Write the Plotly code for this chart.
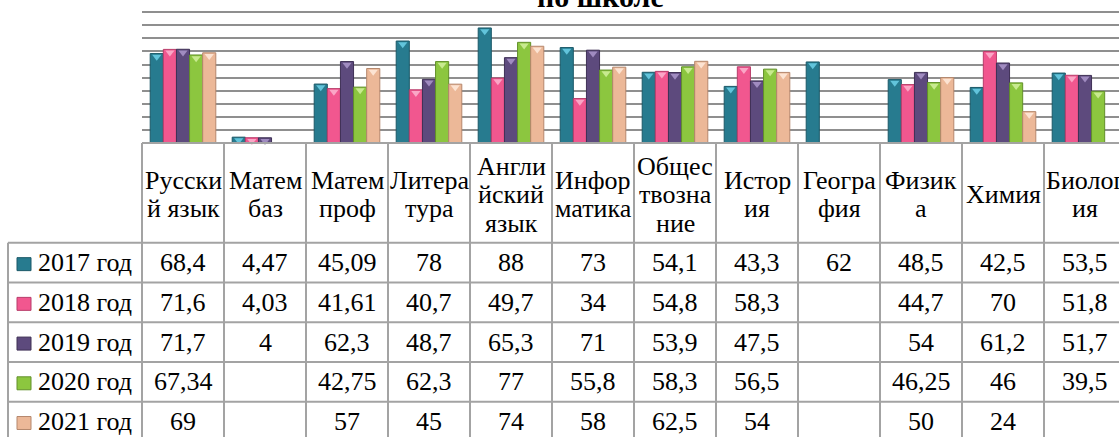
import plotly.graph_objects as go

categories = ["Русский язык", "Матем баз", "Матем проф", "Литература", "Английский язык",
              "Информатика", "Обществознание", "История", "География", "Физика", "Химия", "Биология"]
header_labels = ["Русски\nй язык", "Матем\nбаз", "Матем\nпроф", "Литера\nтура", "Англи\nйский\nязык",
                 "Инфор\nматика", "Общес\nтвозна\nние", "Истор\nия", "Геогра\nфия", "Физик\nа", "Химия", "Биолог\nия"]
series_names = ["2017 год", "2018 год", "2019 год", "2020 год", "2021 год"]
y2017 = [68.4, 4.47, 45.09, 78, 88, 73, 54.1, 43.3, 62, 48.5, 42.5, 53.5]
y2018 = [71.6, 4.03, 41.61, 40.7, 49.7, 34, 54.8, 58.3, None, 44.7, 70, 51.8]
y2019 = [71.7, 4, 62.3, 48.7, 65.3, 71, 53.9, 47.5, None, 54, 61.2, 51.7]
y2020 = [67.34, None, 42.75, 62.3, 77, 55.8, 58.3, 56.5, None, 46.25, 46, 39.5]
y2021 = [69, None, 57, 45, 74, 58, 62.5, 54, None, 50, 24, None]
series_values = [y2017, y2018, y2019, y2020, y2021]
title_text = "по школе"

colors = ["#277B8F", "#F1578F", "#5D4A7D", "#8CC63F", "#ECB898"]
edges = ["#1B5968", "#B83D6A", "#3E3055", "#62902A", "#B5876C"]
lights = ["#62C4DB", "#FAA6C6", "#A08BC0", "#C8EA8F", "#FCE3D2"]

W, H = 1119, 437
L = 142            # left edge of plot area (px)
B_PX = 143.3       # bottom of plot area (px)
CAT_W = 82         # category width (px)
PX_PER_UNIT = 1.31
XMIN = -0.5
XMAX = XMIN + (W - L) / CAT_W
YMAX = 100 + 12.3 / PX_PER_UNIT

FONT = "Liberation Serif"
FS = 26
LINE = "#A3A3A3"


def px_x(px):
    return (px - L) / (W - L)


def px_y(py):
    return (B_PX - py) / B_PX


def cat_paper(c):
    return (c - XMIN) / (XMAX - XMIN)


def fmt(v):
    return "" if v is None else f"{v:g}".replace(".", ",")


def txt(text, x, y, xanchor="center", size=FS):
    return dict(text=text, xref="paper", yref="paper", x=x, y=y,
                xanchor=xanchor, yanchor="middle", showarrow=False,
                font=dict(family=FONT, size=size, color="black"))


fig = go.Figure()
for k, (name, vals, col, edge) in enumerate(zip(series_names, series_values, colors, edges)):
    fig.add_trace(go.Bar(
        x=categories, y=vals, name=name, offsetgroup=str(k),
        marker=dict(color=col, line=dict(color=edge, width=1)),
        showlegend=False, hoverinfo="skip",
    ))
# bevel highlight at the top of each bar
tri_shift = 3.2 / PX_PER_UNIT
for k, (name, vals, lt) in enumerate(zip(series_names, series_values, lights)):
    fig.add_trace(go.Scatter(
        x=categories, y=[None if v is None else v - tri_shift for v in vals],
        mode="markers", offsetgroup=str(k), name=name,
        marker=dict(symbol="triangle-down", size=8, color=lt, line=dict(width=0)),
        showlegend=False, hoverinfo="skip", cliponaxis=False,
    ))

shapes = []
annotations = []

header_top = B_PX
header_bot = 243.3
row_h = 39.8
row_tops = [header_bot + i * row_h for i in range(len(series_names))]
table_bottom = H + 10
left_col_x = 8

shapes.append(dict(type="line", xref="paper", yref="paper", x0=0, x1=1,
                   y0=px_y(header_top), y1=px_y(header_top), line=dict(color=LINE, width=2)))
for rt in row_tops + [row_tops[-1] + row_h]:
    shapes.append(dict(type="line", xref="paper", yref="paper", x0=px_x(left_col_x), x1=1,
                       y0=px_y(rt), y1=px_y(rt), line=dict(color=LINE, width=2)))
shapes.append(dict(type="line", xref="paper", yref="paper", x0=px_x(left_col_x), x1=px_x(left_col_x),
                   y0=px_y(header_bot), y1=px_y(table_bottom), line=dict(color=LINE, width=2)))
for i in range(len(categories) + 1):
    xp = cat_paper(i - 0.5)
    if xp > 1.0001:
        continue
    shapes.append(dict(type="line", xref="paper", yref="paper", x0=xp, x1=xp,
                       y0=px_y(header_top), y1=px_y(table_bottom), line=dict(color=LINE, width=2)))

line_sp = 28.5
head_center = 195
for i, lab in enumerate(header_labels):
    parts = lab.split("\n")
    n = len(parts)
    for j, p in enumerate(parts):
        yc = head_center + (j - (n - 1) / 2) * line_sp
        annotations.append(txt(p, cat_paper(i), px_y(yc)))

for vals, rt in zip(series_values, row_tops):
    yc = rt + row_h / 2
    for i, v in enumerate(vals):
        if v is None:
            continue
        annotations.append(txt(fmt(v), cat_paper(i), px_y(yc)))

for name, col, edge, rt in zip(series_names, colors, edges, row_tops):
    yc = rt + row_h / 2
    shapes.append(dict(type="rect", xref="paper", yref="paper",
                       x0=px_x(17), x1=px_x(31), y0=px_y(yc - 5), y1=px_y(yc + 8),
                       fillcolor=col, line=dict(color=edge, width=1)))
    annotations.append(txt(name, px_x(36), px_y(yc), xanchor="left"))

annotations.append(txt("<b>" + title_text + "</b>", px_x(600), px_y(-4), size=30))

fig.update_layout(
    width=W, height=H,
    margin=dict(l=L, r=0, t=0, b=H - B_PX, pad=0),
    paper_bgcolor="white", plot_bgcolor="white",
    barmode="group", bargap=0.2, bargroupgap=0,
    scattermode="group", scattergap=0.2,
    xaxis=dict(type="category", range=[XMIN, XMAX], showticklabels=False, showgrid=False,
               zeroline=False, showline=False, ticks="", fixedrange=True),
    yaxis=dict(range=[0, YMAX], dtick=10, tick0=0, showticklabels=False, showgrid=True,
               gridcolor="#8F8F8F", gridwidth=2, zeroline=False, showline=False, ticks="", fixedrange=True),
    shapes=shapes, annotations=annotations,
)

fig.write_html("out.html", post_script="document.body.style.margin='0px';",
               config={"displayModeBar": False})
